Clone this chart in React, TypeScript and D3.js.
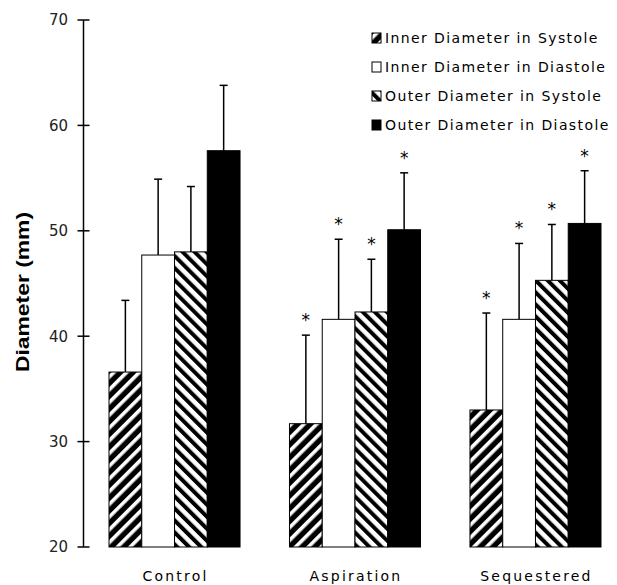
import React, { useEffect, useRef } from 'react';
import * as d3 from 'd3';

const GROUPS = ['Control', 'Aspiration', 'Sequestered'];
const SERIES = [
  'Inner Diameter in Systole',
  'Inner Diameter in Diastole',
  'Outer Diameter in Systole',
  'Outer Diameter in Diastole',
];
// mean diameter (mm) per group, in series order
const MEANS = [
  [36.6, 47.7, 48.0, 57.6],
  [31.7, 41.6, 42.3, 50.1],
  [33.0, 41.6, 45.3, 50.7],
];
// upper error (SD)
const SDS = [
  [6.8, 7.2, 6.2, 6.2],
  [8.4, 7.6, 5.0, 5.4],
  [9.2, 7.2, 5.3, 5.0],
];
const SIGNIFICANT = [false, true, true];
const Y_TICKS = [20, 30, 40, 50, 60, 70];

const FILLS = ['url(#hatchInner)', '#fff', 'url(#hatchOuter)', '#000'];
const PIXEL_FONT = '"DejaVu Sans", sans-serif';

export default function App() {
  const ref = useRef<SVGSVGElement | null>(null);

  useEffect(() => {
    const W = 617, H = 585;
    const svg = d3.select(ref.current);
    svg.selectAll('*').remove();
    svg.attr('width', W).attr('height', H);

    const defs = svg.append('defs');
    // "/" white stripes on black
    const pi = defs.append('pattern')
      .attr('id', 'hatchInner')
      .attr('patternUnits', 'userSpaceOnUse')
      .attr('width', 9).attr('height', 9)
      .attr('patternTransform', 'rotate(45)');
    pi.append('rect').attr('width', 9).attr('height', 9).attr('fill', '#000');
    pi.append('rect').attr('width', 3.6).attr('height', 9).attr('fill', '#fff');
    // "\" black stripes on white
    const po = defs.append('pattern')
      .attr('id', 'hatchOuter')
      .attr('patternUnits', 'userSpaceOnUse')
      .attr('width', 8.5).attr('height', 8.5)
      .attr('patternTransform', 'rotate(-45)');
    po.append('rect').attr('width', 8.5).attr('height', 8.5).attr('fill', '#fff');
    po.append('rect').attr('width', 4).attr('height', 8.5).attr('fill', '#000');

    const y = d3.scaleLinear().domain([20, 70]).range([547, 20]);
    const x0 = d3.scaleBand().domain(GROUPS).range([109, 601]).paddingInner(0.274).paddingOuter(0);
    const x1 = d3.scaleBand().domain(SERIES).range([0, x0.bandwidth()]);

    // y axis
    const axisX = 83.5;
    svg.append('line')
      .attr('x1', axisX).attr('x2', axisX)
      .attr('y1', y(70)).attr('y2', y(20))
      .attr('stroke', '#000').attr('stroke-width', 1.5);
    Y_TICKS.forEach(t => {
      svg.append('line')
        .attr('x1', axisX - 6).attr('x2', axisX + 6)
        .attr('y1', y(t)).attr('y2', y(t))
        .attr('stroke', '#000').attr('stroke-width', 1.5);
      svg.append('text')
        .attr('x', 68).attr('y', y(t))
        .attr('dy', '0.36em')
        .attr('text-anchor', 'end')
        .attr('font-family', PIXEL_FONT)
        .attr('font-size', 15)
        .attr('fill', '#222')
        .text(t);
    });

    svg.append('text')
      .attr('transform', `translate(29,${292}) rotate(-90)`)
      .attr('text-anchor', 'middle')
      .attr('font-family', '"Liberation Sans", Arial, sans-serif')
      .attr('font-weight', 'bold')
      .attr('font-size', 19)
      .attr('textLength', 160)
      .attr('lengthAdjust', 'spacingAndGlyphs')
      .text('Diameter (mm)');

    // bars
    GROUPS.forEach((g, gi) => {
      const gx = x0(g)!;
      SERIES.forEach((s, si) => {
        const bx = gx + x1(s)!;
        const bw = x1.bandwidth();
        const v = MEANS[gi][si];
        const top = v + SDS[gi][si];
        const cx = bx + bw / 2;
        // error bar first so the bar outline covers its foot
        svg.append('line')
          .attr('x1', cx).attr('x2', cx)
          .attr('y1', y(v)).attr('y2', y(top))
          .attr('stroke', '#000').attr('stroke-width', 1.5);
        svg.append('line')
          .attr('x1', cx - 4).attr('x2', cx + 4)
          .attr('y1', y(top)).attr('y2', y(top))
          .attr('stroke', '#000').attr('stroke-width', 1.5);
        svg.append('rect')
          .attr('x', bx).attr('y', y(v))
          .attr('width', bw).attr('height', y(20) - y(v))
          .attr('fill', FILLS[si])
          .attr('stroke', '#000').attr('stroke-width', 1);
        if (SIGNIFICANT[gi]) {
          svg.append('text')
            .attr('x', cx).attr('y', y(top) - 9)
            .attr('text-anchor', 'middle')
            .attr('font-family', PIXEL_FONT)
            .attr('font-size', 17)
            .attr('fill', '#000')
            .text('*');
        }
      });
      svg.append('text')
        .attr('x', gx + x0.bandwidth() / 2 + 1).attr('y', 581)
        .attr('text-anchor', 'middle')
        .attr('font-family', PIXEL_FONT)
        .attr('font-size', 14)
        .attr('letter-spacing', 2.2)
        .attr('fill', '#000')
        .text(g);
    });

    // legend
    SERIES.forEach((s, si) => {
      const ly = 38 + si * 29;
      svg.append('rect')
        .attr('x', 372).attr('y', ly - 5)
        .attr('width', 9).attr('height', 10)
        .attr('fill', FILLS[si])
        .attr('stroke', '#000').attr('stroke-width', 1);
      svg.append('text')
        .attr('x', 385).attr('y', ly)
        .attr('dy', '0.36em')
        .attr('font-family', PIXEL_FONT)
        .attr('font-size', 14)
        .attr('letter-spacing', 1.4)
        .attr('fill', '#000')
        .text(s);
    });
  }, []);

  return (
    <div style={{ position: 'absolute', left: 0, top: 0, background: '#fff' }}>
      <svg ref={ref} style={{ display: 'block' }} />
    </div>
  );
}
